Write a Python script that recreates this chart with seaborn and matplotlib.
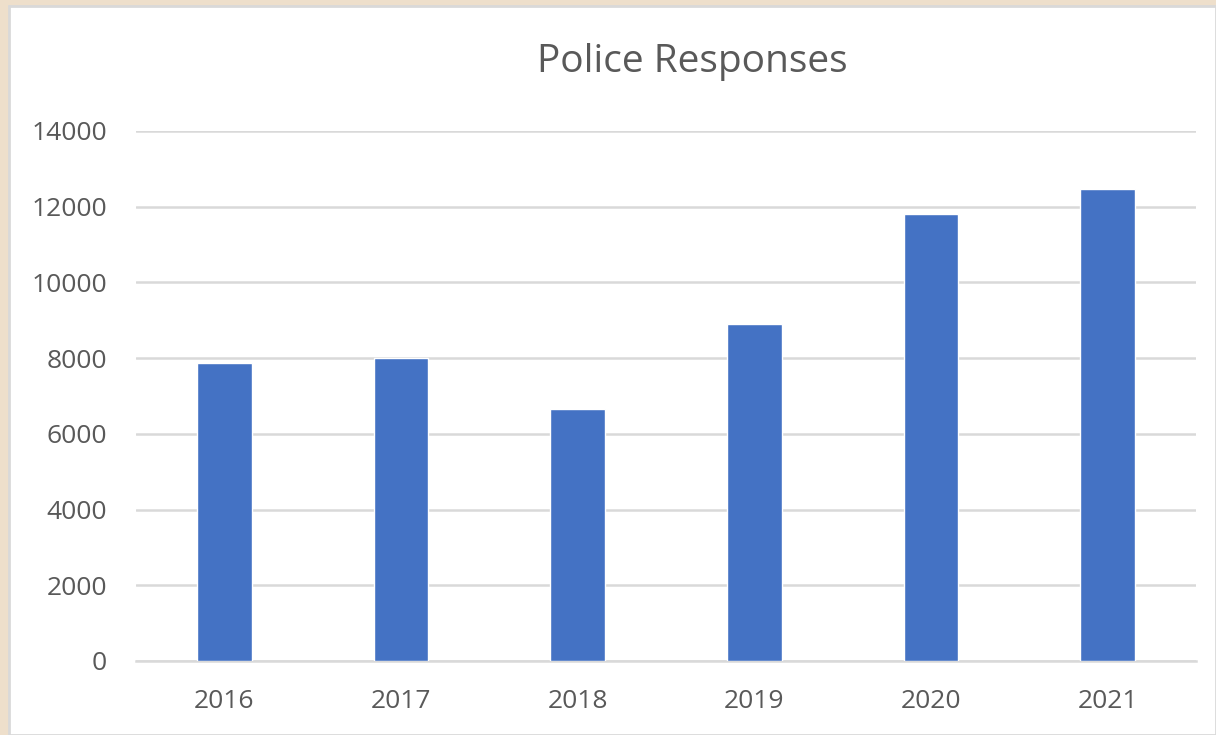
import matplotlib
matplotlib.use("Agg")
import matplotlib.pyplot as plt
import seaborn as sns
import pandas as pd
from matplotlib.patches import Rectangle

years = ["2016", "2017", "2018", "2019", "2020", "2021"]
responses = [7860, 8000, 6660, 8890, 11800, 12480]
title = "Police Responses"
yticks = [0, 2000, 4000, 6000, 8000, 10000, 12000, 14000]

df = pd.DataFrame({"Year": years, "Responses": responses})

sns.set_theme(style="white")
plt.rcParams["font.family"] = ["Open Sans", "DejaVu Sans"]

W, H = 1216, 735
fig = plt.figure(figsize=(W / 100, H / 100), dpi=100)
fig.patch.set_facecolor("#eedfcb")
# chart area (white panel with light gray border)
fig.patches.append(Rectangle((9 / W, 0), 1 - 9 / W, 1 - 6 / H, transform=fig.transFigure,
                             facecolor="white", edgecolor="#d9d9d9", linewidth=2, zorder=-10))

ax = fig.add_axes([136 / W, (H - 661) / H, (1196 - 136) / W, (661 - 131) / H])
ax.set_facecolor("none")
sns.barplot(data=df, x="Year", y="Responses", color="#4472c4", saturation=1,
            width=0.31, ax=ax, zorder=3)
ax.set_ylim(0, 14000)
ax.set_yticks(yticks)
ax.set_yticklabels([str(v) for v in yticks])
ax.yaxis.grid(True, color="#d9d9d9", linewidth=1.8, zorder=0)
ax.set_axisbelow(True)
for s in ["top", "right", "left"]:
    ax.spines[s].set_visible(False)
ax.spines["bottom"].set_color("#d9d9d9")
ax.spines["bottom"].set_linewidth(1.8)
ax.tick_params(axis="both", length=0, labelsize=19, labelcolor="#595959")
ax.tick_params(axis="y", pad=21)
ax.tick_params(axis="x", pad=20)
ax.set_xlabel("")
ax.set_ylabel("")
fig.text(692 / W, 1 - 62 / H, title, ha="center", va="center",
         fontsize=28, color="#595959")

fig.savefig("out.png", dpi=100, facecolor=fig.get_facecolor())
